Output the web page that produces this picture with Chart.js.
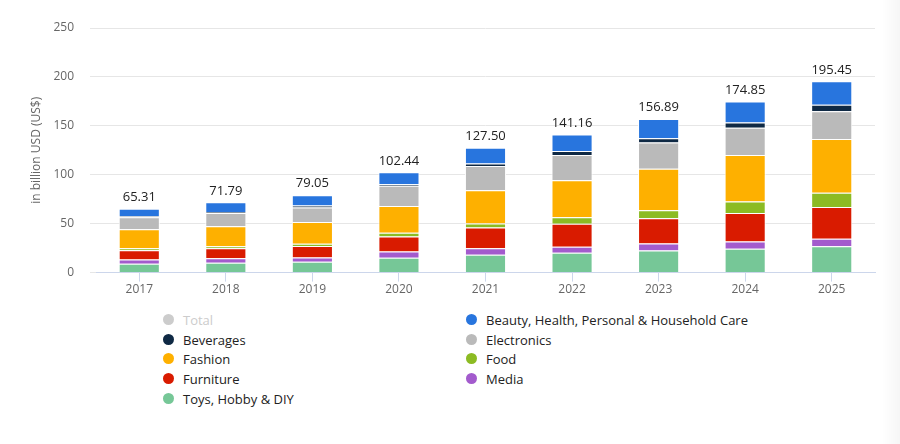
<!DOCTYPE html>
<html>
<head>
<meta charset="utf-8">
<script src="https://cdn.jsdelivr.net/npm/chart.js@4.4.1/dist/chart.umd.min.js"></script>
<style>
  body { margin: 0; background: #fff; font-family: "Open Sans", sans-serif; }
  .wrap { position: relative; width: 900px; height: 444px; overflow: hidden; }
  .chart { position: absolute; left: 0; top: 0; width: 900px; height: 298px; }
  .legend { position: absolute; left: 0; top: 310px; width: 900px; }
  .item { position: absolute; font-size: 13px; color: #222; line-height: 20px; white-space: nowrap; }
  .item .dot { position: absolute; left: -20px; top: 4px; width: 11px; height: 11px; border-radius: 50%; }
  .item.off { color: #ccc; }
  .shade { position: absolute; right: 0; top: 0; width: 18px; height: 444px;
    background: linear-gradient(to right, rgba(0,0,0,0), rgba(0,0,0,0.035)); }
</style>
</head>
<body>
<div class="wrap">
  <div class="chart"><canvas id="myChart" width="900" height="298"></canvas></div>
  <div class="legend"></div>
  <div class="shade"></div>
</div>
<script>
const years = ["2017", "2018", "2019", "2020", "2021", "2022", "2023", "2024", "2025"];
const totals = [65.31, 71.79, 79.05, 102.44, 127.5, 141.16, 156.89, 174.85, 195.45];
const toys = [9.1, 10.0, 11.1, 15.1, 18.2, 20.2, 22.6, 24.5, 27.0];
const media = [4.3, 4.7, 4.3, 6.5, 6.8, 6.2, 7.2, 7.3, 7.5];
const furniture = [9.4, 10.1, 11.8, 15.4, 21.2, 23.6, 25.7, 29.2, 32.5];
const food = [2.2, 2.2, 2.3, 3.8, 4.1, 6.5, 8.2, 11.6, 14.5];
const fashion = [19.3, 20.3, 22.2, 27.3, 33.9, 38.0, 42.5, 47.6, 55.0];
const electronics = [12.2, 13.5, 14.9, 20.6, 24.7, 25.7, 26.7, 27.8, 28.5];
const beverages = [1.0, 1.2, 1.9, 1.7, 2.7, 4.1, 4.4, 5.4, 6.5];
const beauty = [7.81, 9.79, 10.55, 12.04, 15.9, 16.86, 19.59, 21.45, 23.95];
const yTicks = [0, 50, 100, 150, 200, 250];

// bottom of the stack first
const series = [
  { label: "Toys, Hobby & DIY", data: toys, color: "#76c797" },
  { label: "Media", data: media, color: "#a35bcd" },
  { label: "Furniture", data: furniture, color: "#d91b00" },
  { label: "Food", data: food, color: "#8cbb23" },
  { label: "Fashion", data: fashion, color: "#feb000" },
  { label: "Electronics", data: electronics, color: "#bababa" },
  { label: "Beverages", data: beverages, color: "#0f2944" },
  { label: "Beauty, Health, Personal & Household Care", data: beauty, color: "#2875de" },
];

const datasets = series.map((s) => {
  return {
    label: s.label,
    data: s.data,
    backgroundColor: s.color,
    borderColor: "#ffffff",
    borderWidth: 1,
    stack: "a",
  };
});
datasets.push({ label: "Total", data: totals, backgroundColor: "#cccccc", hidden: true, stack: "t" });

////TOTAL LABELS
const totalLabels = {
  id: "totalLabels",
  afterDatasetsDraw(chart) {
    const c = chart.ctx;
    const top = chart.getDatasetMeta(series.length - 1);
    c.save();
    c.font = "500 13px 'Open Sans'";
    c.fillStyle = "#222";
    c.textAlign = "center";
    c.textBaseline = "bottom";
    top.data.forEach((bar, i) => {
      c.fillText(totals[i].toFixed(2), bar.x, bar.y - 5);
    });
    c.restore();
  },
};

const ctx = document.getElementById("myChart").getContext("2d");
const myChart = new Chart(ctx, {
  type: "bar",
  data: { labels: years, datasets: datasets },
  options: {
    responsive: false,
    animation: false,
    layout: { padding: { top: 28, right: 25, left: 0, bottom: 0 } },
    plugins: { legend: { display: false }, tooltip: { enabled: false } },
    datasets: { bar: { categoryPercentage: 1, barPercentage: 0.475 } },
    scales: {
      x: {
        stacked: true,
        border: { color: "#ccd6eb" },
        grid: { offset: false, drawOnChartArea: false, color: "#ccd6eb", tickLength: 9 },
        ticks: { color: "#666", font: { family: "Open Sans", size: 12 }, padding: 1 },
      },
      y: {
        stacked: true,
        min: 0,
        max: 250,
        afterFit: (s) => { s.width = 96; },
        afterBuildTicks: (s) => { s.ticks = yTicks.map((v) => ({ value: v })); },
        border: { display: false },
        grid: { color: "#e6e6e6", tickLength: 6 },
        ticks: { color: "#666", font: { family: "Open Sans", size: 12 }, padding: 16 },
        title: {
          display: true,
          text: "in billion USD (US$)",
          color: "#666",
          font: { family: "Open Sans", size: 12 },
          padding: { top: 29, bottom: 0 },
        },
      },
    },
  },
  plugins: [totalLabels],
});

////LEGEND
const legendOrder = [
  "Total", "Beauty, Health, Personal & Household Care",
  "Beverages", "Electronics",
  "Fashion", "Food",
  "Furniture", "Media",
  "Toys, Hobby & DIY",
];
document.querySelector(".legend").innerHTML = legendOrder
  .map((name, i) => {
    const ds = myChart.data.datasets.find((d) => d.label === name);
    const left = i % 2 === 0 ? 183 : 486;
    const top = Math.floor(i / 2) * 19.7;
    return `<div class="item ${ds.hidden ? "off" : ""}" style="left:${left}px;top:${top}px">
      <span class="dot" style="background:${ds.backgroundColor}"></span>${name}</div>`;
  })
  .join("");
</script>
</body>
</html>
